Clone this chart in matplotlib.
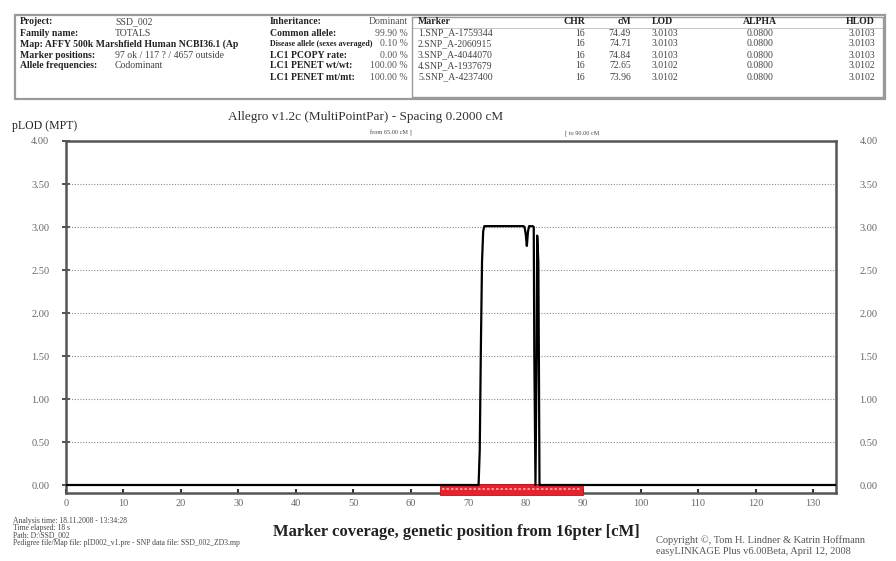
import matplotlib
matplotlib.use("Agg")
import matplotlib.pyplot as plt
from matplotlib.patches import Rectangle
from matplotlib.lines import Line2D

plt.rcParams['font.family'] = ['Liberation Serif', 'DejaVu Serif']

# ---------------- data ----------------
pos_cm = [0.0, 71.8, 72.0, 72.2, 72.4, 72.6, 72.8, 73.0, 79.6, 79.8, 80.0, 80.2, 80.4,
          80.6, 81.2, 81.4, 81.5, 81.7, 81.9, 82.0, 82.2, 82.3, 82.4, 134.0]
plod = [0.0, 0.0, 0.4, 1.6, 2.6, 2.95, 3.01, 3.01, 3.01, 3.0, 2.92, 2.78, 2.95,
        3.01, 3.01, 3.0, 1.5, 0.0, 1.5, 2.9, 2.6, 1.4, 0.0, 0.0]
marker_span = [65.0, 90.0]
yticks = [0.0, 0.5, 1.0, 1.5, 2.0, 2.5, 3.0, 3.5, 4.0]
xticks = [0, 10, 20, 30, 40, 50, 60, 70, 80, 90, 100, 110, 120, 130]

left_labels = ["Project:", "Family name:", "Map: AFFY 500k Marshfield Human NCBI36.1 (Ap",
               "Marker positions:", "Allele frequencies:"]
left_values = ["SSD_002", "TOTALS", "", "97 ok / 117 ? / 4657 outside", "Codominant"]
mid_labels = ["Inheritance:", "Common allele:", "Disease allele (sexes averaged)",
              "LC1 PCOPY rate:", "LC1 PENET wt/wt:", "LC1 PENET mt/mt:"]
mid_values = ["Dominant", "99.90 %", "0.10 %", "0.00 %", "100.00 %", "100.00 %"]
tbl_header = ["Marker", "CHR", "cM", "LOD", "ALPHA", "HLOD"]
tbl_marker = ["1.SNP_A-1759344", "2.SNP_A-2060915", "3.SNP_A-4044070",
              "4.SNP_A-1937679", "5.SNP_A-4237400"]
tbl_chr = ["16", "16", "16", "16", "16"]
tbl_cm = ["74.49", "74.71", "74.84", "72.65", "73.96"]
tbl_lod = ["3.0103", "3.0103", "3.0103", "3.0102", "3.0102"]
tbl_alpha = ["0.0800", "0.0800", "0.0800", "0.0800", "0.0800"]
tbl_hlod = ["3.0103", "3.0103", "3.0103", "3.0102", "3.0102"]

W, H = 896, 561
fig = plt.figure(figsize=(W / 100, H / 100), dpi=100)
fig.patch.set_facecolor('white')


def fx(x):
    return x / W


def fy(y):
    return 1 - y / H


def ftext(x, y, s, **kw):
    kw.setdefault('va', 'center')
    fig.text(fx(x), fy(y), s, **kw)


# ---------------- header box ----------------
hdr_fs = 7.0
box = Rectangle((fx(15), fy(99)), fx(885) - fx(15), fy(15) - fy(99), transform=fig.transFigure,
                fill=False, edgecolor='#9a9a9a', lw=1.6)
fig.add_artist(box)
box2 = Rectangle((fx(412), fy(97)), fx(883) - fx(412), fy(17) - fy(97), transform=fig.transFigure,
                 fill=False, edgecolor='#9a9a9a', lw=1.0)
fig.add_artist(box2)
fig.add_artist(Line2D([fx(413), fx(882)], [fy(28), fy(28)], transform=fig.transFigure,
                      color='#bbbbbb', lw=0.6))

row_y = [22, 33, 44, 55, 66, 77]
for i, (lab, val) in enumerate(zip(left_labels, left_values)):
    ftext(20, row_y[i], lab, fontsize=hdr_fs, fontweight='bold', color='#222222')
    if val:
        ftext(115, row_y[i], val, fontsize=hdr_fs, color='#444444')
for i, (lab, val) in enumerate(zip(mid_labels, mid_values)):
    fs = 5.8 if i == 2 else hdr_fs
    ftext(270, row_y[i], lab, fontsize=fs, fontweight='bold', color='#222222')
    ftext(408, row_y[i], val, fontsize=hdr_fs, color='#555555', ha='right')

col_x = [418, 585, 631, 652, 760, 875]
col_ha = ['left', 'right', 'right', 'left', 'center', 'right']
for j, h in enumerate(tbl_header):
    ftext(col_x[j], row_y[0], h, fontsize=hdr_fs, fontweight='bold', color='#222222', ha=col_ha[j])
for i in range(5):
    vals = [tbl_marker[i], tbl_chr[i], tbl_cm[i], tbl_lod[i], tbl_alpha[i], tbl_hlod[i]]
    for j, v in enumerate(vals):
        ftext(col_x[j], row_y[i + 1], v, fontsize=hdr_fs, color='#444444', ha=col_ha[j])

# ---------------- main axes ----------------
ax = fig.add_axes([fx(66), fy(493), fx(836) - fx(66), fy(141) - fy(493)])
ax.set_xlim(0, 134)
ax.set_ylim(-0.093, 4.0)

for y in yticks[1:-1]:
    ax.axhline(y, color='#888888', lw=0.8, ls=(0, (1, 1.5)))
ax.axhline(0.0, color='#333333', lw=1.4)

# marker coverage band
ax.add_patch(Rectangle((marker_span[0], -0.115), marker_span[1] - marker_span[0], 0.13,
                       facecolor='#e8222c', edgecolor='#c01018', lw=0.6, clip_on=False, zorder=3))
ax.hlines(-0.05, marker_span[0] + 0.5, marker_span[1] - 0.5, colors='#ffb0b8', lw=1.2,
          linestyles=(0, (1.5, 1.2)), zorder=4, clip_on=False)

ax.plot(pos_cm, plod, color='black', lw=1.6, zorder=5)

for s in ['left', 'top', 'right', 'bottom']:
    ax.spines[s].set_color('#555555')
    ax.spines[s].set_linewidth(1.8)

ax.set_xticks(xticks)
ax.set_xticklabels([str(t) for t in xticks], fontsize=7.5, color='#666666')
ax.tick_params(axis='x', direction='in', length=3, width=1.5, color='#333333', pad=4)
ax.set_yticks(yticks)
ax.set_yticklabels(["%.2f" % t for t in yticks], fontsize=7.5, color='#666666')
ax.tick_params(axis='y', direction='inout', length=6, width=1.2, color='#333333',
               left=True, right=True, labelleft=True, labelright=False, pad=9)

ax2 = ax.twinx()
ax2.set_ylim(ax.get_ylim())
ax2.set_yticks(yticks)
ax2.set_yticklabels(["%.2f" % t for t in yticks], fontsize=7.5, color='#666666')
ax2.tick_params(axis='y', length=0, pad=17)
for s in ax2.spines.values():
    s.set_visible(False)

# ---------------- texts ----------------
ftext(12, 126, "pLOD (MPT)", fontsize=8.5, color='#222222')
ftext(228, 117, "Allegro v1.2c (MultiPointPar) - Spacing 0.2000 cM", fontsize=9.5, color='#333333')
ftext(370, 133, "from 65.00 cM ]", fontsize=4.5, color='#444444')
ftext(565, 133, "[ to 90.00 cM", fontsize=4.5, color='#444444')

ftext(456, 532, "Marker coverage, genetic position from 16pter [cM]", fontsize=12,
      fontweight='bold', color='#222222', ha='center')

bl_lines = ["Analysis time: 18.11.2008 - 13:34:28", "Time elapsed: 18 s",
            "Path: D:\\SSD_002",
            "Pedigree file/Map file: pID002_v1.pre - SNP data file: SSD_002_ZD3.mp"]
for i, s in enumerate(bl_lines):
    ftext(13, 521 + i * 7.2, s, fontsize=5.5, color='#444444')

ftext(656, 540, "Copyright \u00a9, Tom H. Lindner & Katrin Hoffmann", fontsize=7.5, color='#555555')
ftext(656, 552, "easyLINKAGE Plus v6.00Beta, April 12, 2008", fontsize=7.5, color='#555555')

fig.savefig("out.png", dpi=100, facecolor='white')
